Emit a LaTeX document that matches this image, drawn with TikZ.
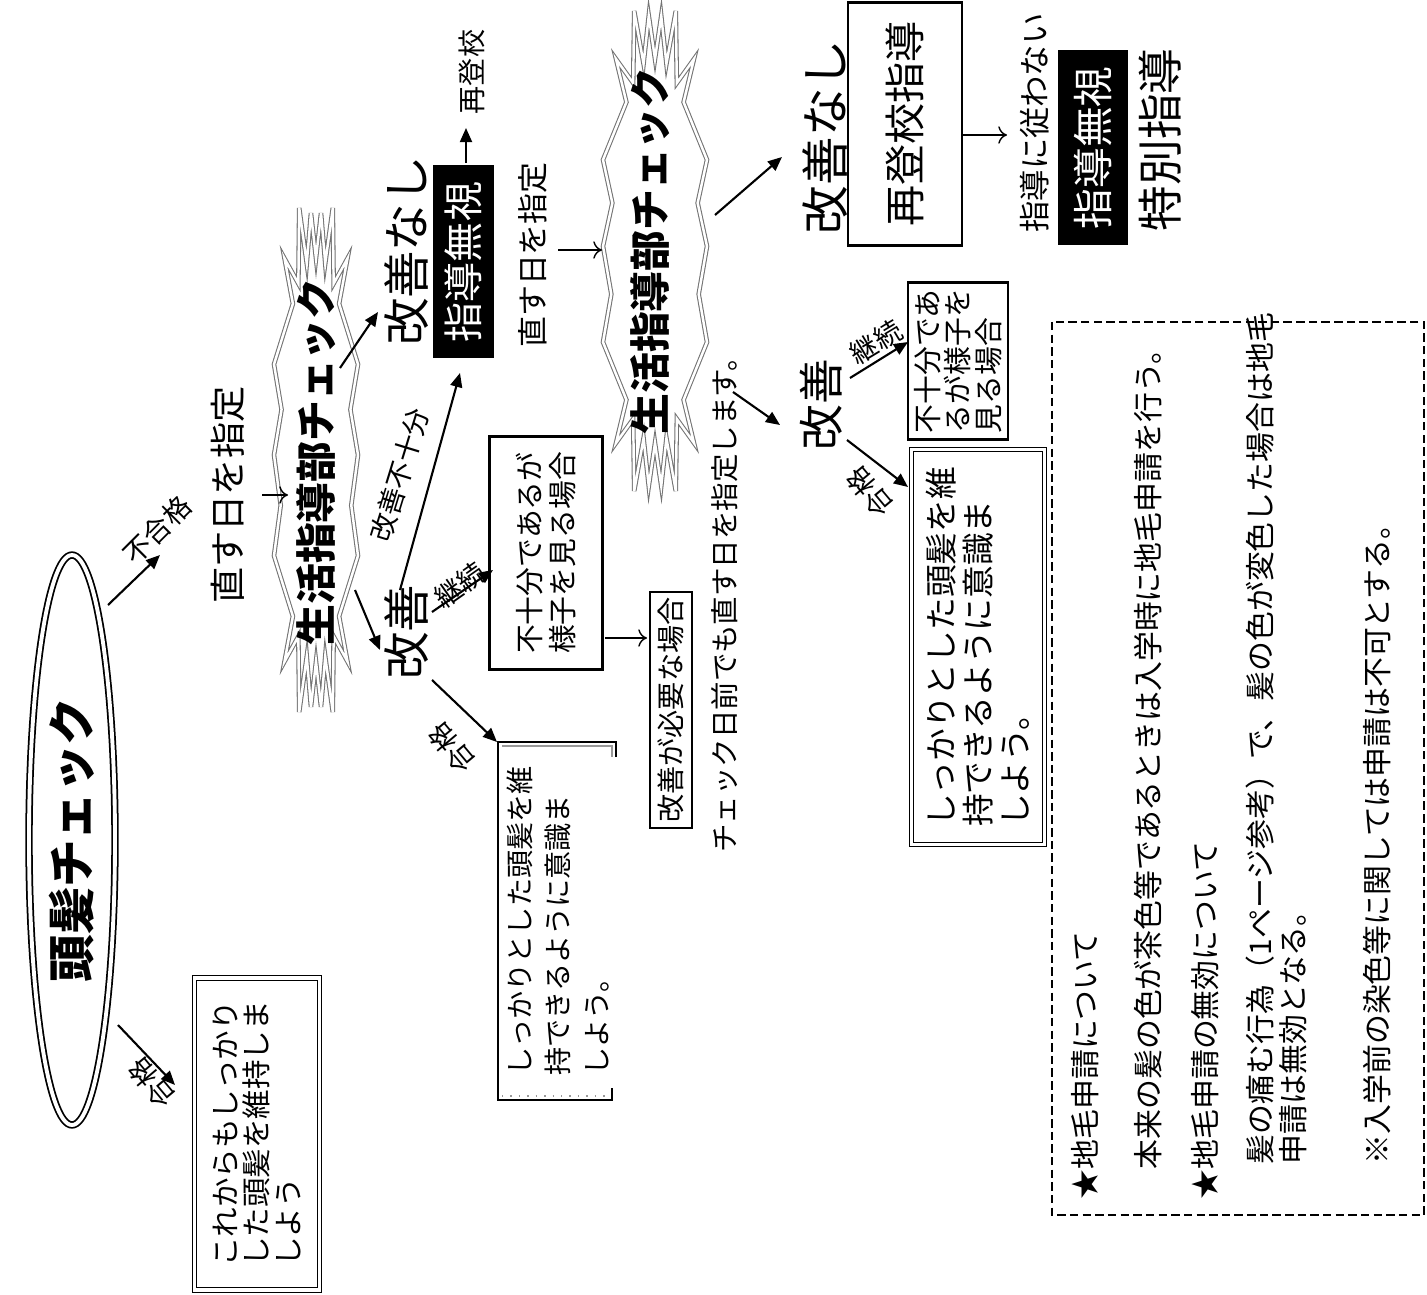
\documentclass[tikz,border=0pt]{standalone}
\usepackage{fontspec}
\setmainfont{Noto Sans CJK JP}
\usetikzlibrary{arrows.meta,shapes.geometric}
\definecolor{burstgray}{rgb}{0.45,0.45,0.45}
\definecolor{framegray}{rgb}{0.6,0.6,0.6}
\tikzset{
  jtext/.style={rotate=90, inner sep=0pt, font=\fontsize{#1}{#1}\selectfont},
  jtext/.default=9pt,
  lbl/.style={inner sep=0pt, font=\fontsize{7.8pt}{7.8pt}\selectfont},
  note/.style={rotate=90, anchor=west, inner sep=0pt, font=\fontsize{8.5pt}{8.5pt}\selectfont},
  titleoval/.style={ellipse, draw, double, double distance=1.1pt, line width=0.5pt, rotate=90,
    minimum width=57mm, minimum height=8.6mm, inner sep=0pt,
    font=\bfseries\fontsize{13.5pt}{13.5pt}\selectfont},
  bursttext/.style={rotate=90, inner sep=0pt, font=\bfseries\fontsize{11.6pt}{11.6pt}\selectfont},
  burstline/.style={draw=burstgray, double=white, double distance=0.7pt, line width=0.3pt},
  box/.style={draw, line width=0.7pt, rotate=90, align=left, inner sep=0pt},
  dbox/.style={draw, double, double distance=0.9pt, line width=0.4pt, rotate=90, align=left, inner sep=0pt},
  blackbox/.style={fill=black, text=white, rotate=90, inner sep=0pt},
  arr/.style={-{Triangle[length=4pt,width=3.4pt]}, line width=0.6pt},
  thinarr/.style={-{To[length=2.5pt,width=5pt]}, line width=0.4pt},
  notebox/.style={draw, line width=0.6pt, dash pattern=on 2.4pt off 1.2pt}
}

\begin{document}
\begin{tikzpicture}[x=0.1mm, y=-0.1mm]
  \useasboundingbox (0,0) rectangle (1427,1295);

  % the two check bursts
  \foreach \cx/\cy/\hw/\hl in {316/460/42/252, 655/251/52/240}
  {
    \begin{scope}[shift={(\cx,\cy)}, xscale=\hw, yscale=\hl]
      \draw[burstline] (-0.55,-0.62) -- (-1,-0.38) -- (-0.82,-0.2) -- (-1,-0.02) -- (-0.84,0.18)
        -- (-1,0.38) -- (-0.55,0.62) -- (-0.75,0.8) -- (-0.42,0.7) -- (-0.4,1) -- (-0.22,0.78)
        -- (-0.12,0.98) -- (0,0.8) -- (0.12,0.98) -- (0.22,0.78) -- (0.4,1) -- (0.42,0.7)
        -- (0.75,0.8) -- (0.55,0.62) -- (1,0.38) -- (0.84,0.18) -- (1,-0.02) -- (0.82,-0.2)
        -- (1,-0.38) -- (0.55,-0.62) -- (0.75,-0.8) -- (0.42,-0.7) -- (0.4,-1) -- (0.22,-0.78)
        -- (0.12,-0.98) -- (0,-0.8) -- (-0.12,-0.98) -- (-0.22,-0.78) -- (-0.4,-1) -- (-0.42,-0.7)
        -- (-0.75,-0.8) -- cycle;
    \end{scope}
  }

  % title
  \node[titleoval] (title) at (72,840) {頭髪チェック};
  \node[lbl, rotate=45] (ngtxt) at (157,530) {不合格};
  \node[lbl, rotate=130] (oktxt) at (152,1083) {合格};
  \node[dbox, minimum width=31.2mm, minimum height=12.5mm,
    font=\fontsize{8.4pt}{8.9pt}\selectfont] (keep0) at (257,1134)
    {これからもしっかり\\した頭髪を維持しま\\しよう};

  % first check
  \node[jtext=10.3pt] (fix1) at (228,495) {直す日を指定};
  \node[bursttext] (chk1) at (316,462) {生活指導部チェック};
  \node[jtext=13.5pt] (good1) at (407,632) {改善};
  \node[jtext=13.5pt] (bad1) at (407,251) {改善なし};
  \node[blackbox, minimum width=19.3mm, minimum height=6.1mm,
    font=\fontsize{11.4pt}{11.4pt}\selectfont] (ign1) at (463,262) {指導無視};
  \node[jtext=8pt] (back1) at (472,72) {再登校};
  \node[lbl, rotate=73] (halftxt) at (400,475) {改善不十分};
  \node[lbl, rotate=35] (cont1) at (460,585) {継続};
  \node[lbl, rotate=130] (ok1) at (452,748) {合格};
  \node[box, minimum width=23.3mm, minimum height=11.3mm,
    font=\fontsize{8.2pt}{9.4pt}\selectfont] (watch1) at (546,553)
    {不十分であるが\\様子を見る場合};
  \node[box, minimum width=23.6mm, minimum height=4.2mm,
    font=\fontsize{8pt}{8pt}\selectfont] (need) at (671,710) {改善が必要な場合};
  \node[jtext=8.1pt] (early) at (725,598) {チェック日前でも直す日を指定します。};
  \node[rotate=90, align=left, inner sep=0pt,
    font=\fontsize{8pt}{11pt}\selectfont] (keep1) at (558,921)
    {しっかりとした頭髪を維\\持できるように意識ま\\しよう。};
  % open frame round keep1
  \draw[line width=0.6pt] (616,757) -- (616,742) -- (498,742) -- (498,1100) -- (612,1100) -- (612,1088);
  \draw[framegray, line width=0.4pt] (502,746) -- (612,746) -- (612,757);
  \draw[framegray, line width=0.4pt, dotted] (502,1096) -- (609,1096);

  % second check
  \node[jtext=8.8pt] (fix2) at (533,255) {直す日を指定};
  \node[bursttext] (chk2) at (650,251) {生活指導部チェック};
  \node[jtext=13.8pt] (bad2) at (825,137) {改善なし};
  \node[box, minimum width=24.3mm, minimum height=11.4mm,
    font=\fontsize{11.7pt}{11.7pt}\selectfont] (reent) at (905,124) {再登校指導};
  \node[jtext=8.9pt] (refuse) at (1035,123) {指導に従わない};
  \node[blackbox, minimum width=19.5mm, minimum height=7mm,
    font=\fontsize{11.6pt}{11.6pt}\selectfont] (ign2) at (1093,148) {指導無視};
  \node[jtext=13pt] (special) at (1160,140) {特別指導};
  \node[jtext=13pt] (good2) at (821,405) {改善};
  \node[lbl, rotate=31] (cont2) at (876,342) {継続};
  \node[lbl, rotate=130] (ok2) at (870,492) {合格};
  \node[box, minimum width=15.7mm, minimum height=10mm,
    font=\fontsize{8.2pt}{8.6pt}\selectfont] (watch2) at (958,361)
    {不十分であ\\るが様子を\\見る場合};
  \node[dbox, minimum width=39.5mm, minimum height=13.3mm,
    font=\fontsize{9.3pt}{10.5pt}\selectfont] (keep2) at (978,647)
    {しっかりとした頭髪を維\\持できるように意識ま\\しよう。};

  % connectors
  \coordinate (s1) at (108,605);  \coordinate (e1) at (160,555);
  \coordinate (s2) at (118,1025); \coordinate (e2) at (175,1085);
  \coordinate (s3) at (262,495);  \coordinate (e3) at (288,495);
  \coordinate (s4) at (355,590);  \coordinate (e4) at (380,650);
  \coordinate (s5) at (340,368);  \coordinate (e5) at (378,312);
  \coordinate (s6) at (400,590);  \coordinate (e6) at (460,373);
  \coordinate (s7) at (466,163);  \coordinate (e7) at (466,128);
  \coordinate (s8) at (432,612);  \coordinate (e8) at (493,570);
  \coordinate (s9) at (605,638);  \coordinate (e9) at (647,638);
  \coordinate (s10) at (432,680); \coordinate (e10) at (497,742);
  \coordinate (s11) at (558,250); \coordinate (e11) at (602,250);
  \coordinate (s12) at (715,215); \coordinate (e12) at (782,157);
  \coordinate (s13) at (733,392); \coordinate (e13) at (780,425);
  \coordinate (s14) at (850,378); \coordinate (e14) at (908,342);
  \coordinate (s15) at (847,440); \coordinate (e15) at (908,487);
  \coordinate (s16) at (963,135); \coordinate (e16) at (1007,135);
  \foreach \i in {1,2,4,5,6,7,8,10,12,13,14,15}
    \draw[arr] (s\i) -- (e\i);
  \foreach \i in {3,9,11,16}
    \draw[thinarr] (s\i) -- (e\i);

  % notes
  \draw[notebox] (1052,322) rectangle (1424,1215);
  \node[note] (n1) at (1085,1200) {★地毛申請について};
  \node[note] (n2) at (1148,1170) {本来の髪の色が茶色等であるときは入学時に地毛申請を行う。};
  \node[note] (n3) at (1205,1200) {★地毛申請の無効について};
  \node[note] (n4) at (1260,1165) {髪の痛む行為（1ページ参考）で、髪の色が変色した場合は地毛};
  \node[note] (n5) at (1293,1165) {申請は無効となる。};
  \node[note] (n6) at (1377,1165) {※入学前の染色等に関しては申請は不可とする。};
\end{tikzpicture}
\end{document}
